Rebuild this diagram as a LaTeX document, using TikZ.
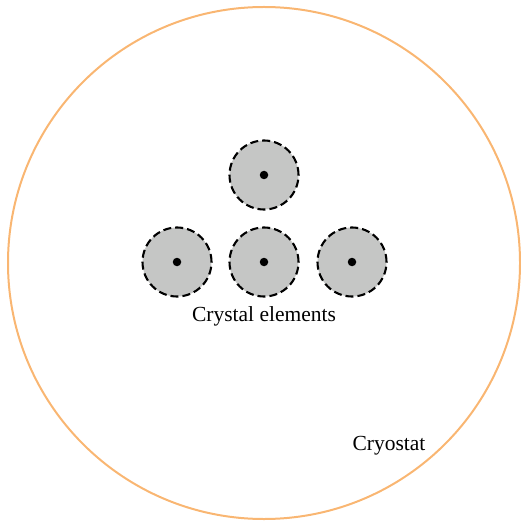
\documentclass[tikz,border=0pt]{standalone}
\usepackage{fontspec}
\setmainfont{Liberation Serif}
\definecolor{cryo}{HTML}{F9B672}
\definecolor{crys}{HTML}{C5C6C5}
\begin{document}
\begin{tikzpicture}[x=1pt,y=-1pt,
  crystal/.style={circle,draw=black,fill=crys,line width=2.1pt,dash pattern=on 8pt off 4pt,minimum size=69pt,inner sep=0pt},
  core/.style={circle,fill=black,minimum size=8.5pt,inner sep=0pt},
  lbl/.style={font=\fontsize{21.5}{25}\selectfont,inner sep=0pt}]
\useasboundingbox (0,0) rectangle (520,521);
\node[circle,draw=cryo,line width=2pt,minimum size=512pt,inner sep=0pt] (cryostat) at (264,263) {};
\node[crystal] (c1) at (264,175) {};
\node[crystal] (c2) at (177,262) {};
\node[crystal] (c3) at (264,262) {};
\node[crystal] (c4) at (352,262) {};
\node[core] (d1) at (c1) {};
\node[core] (d2) at (c2) {};
\node[core] (d3) at (c3) {};
\node[core] (d4) at (c4) {};
\node[lbl] (lc) at (264,316) {Crystal elements};
\node[lbl] (lk) at (389,446) {Cryostat};
\end{tikzpicture}
\end{document}
